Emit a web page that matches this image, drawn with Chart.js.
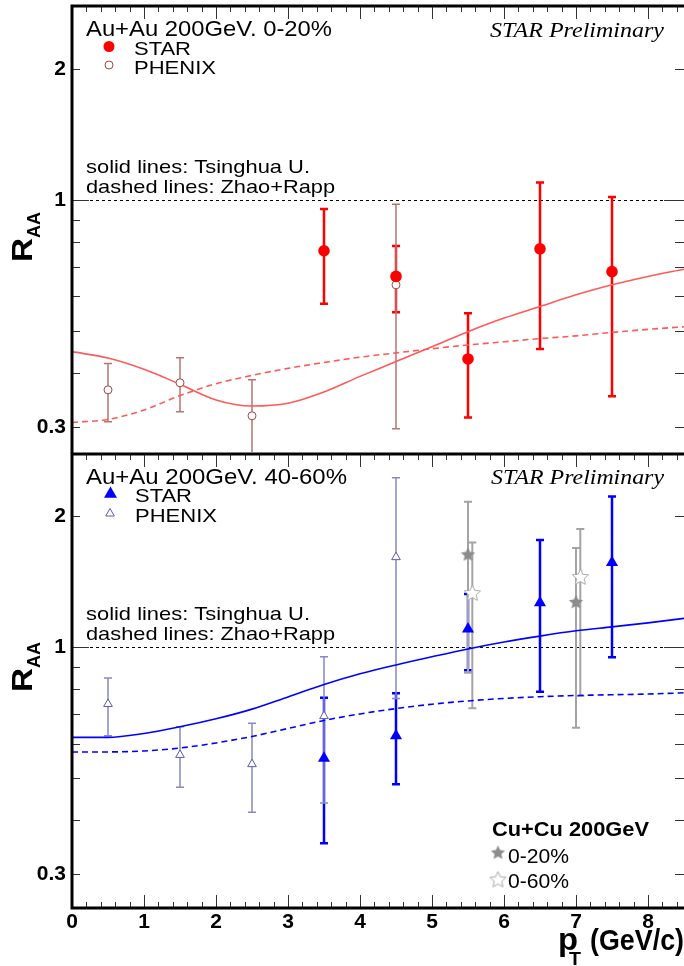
<!DOCTYPE html>
<html lang="en">
<head>
<meta charset="UTF-8">
<title>RAA vs pT</title>
<script src="https://cdn.jsdelivr.net/npm/chart.js@4"></script>
<style>
  body { margin: 0; background: #fff; }
  #wrap { position: relative; width: 684px; height: 966px; overflow: hidden; }
  canvas { position: absolute; left: 0; }
  #topPanel { top: 0; }
  #botPanel { top: 450px; }
</style>
</head>
<body>
<div id="wrap">
  <canvas id="topPanel" width="684" height="460"></canvas>
  <canvas id="botPanel" width="684" height="516"></canvas>
</div>
<script>
// ---- data ----
const ptStar = [3.5, 4.5, 5.5, 6.5, 7.5];
const ptPhxTop = [0.5, 1.5, 2.5, 4.5];
const ptPhxBot = [0.5, 1.5, 2.5, 3.5, 4.5];

// Au+Au 0-20%
const starCen   = [0.764, 0.667, 0.431, 0.772, 0.684];
const starCenHi = [0.953, 0.784, 0.549, 1.096, 1.016];
const starCenLo = [0.577, 0.552, 0.316, 0.454, 0.354];
const phxCen    = [0.366, 0.380, 0.319, 0.638];
const phxCenHi  = [0.421, 0.434, 0.386, 0.977];
const phxCenLo  = [0.309, 0.326, 0.25, 0.298];

// Au+Au 40-60%
const starPer   = [0.555, 0.625, 1.10, 1.265, 1.566];
const starPerHi = [0.765, 0.783, 1.324, 1.762, 2.22];
const starPerLo = [0.354, 0.484, 0.885, 0.789, 0.948];
const phxPer    = [0.74, 0.565, 0.538, 0.694, 1.61];
const phxPerHi  = [0.849, 0.656, 0.668, 0.95, 2.45];
const phxPerLo  = [0.625, 0.476, 0.417, 0.438, 0.762];

// Cu+Cu 200GeV
const ptCu20 = [5.5, 7.0];
const cu20   = [1.63, 1.267];
const cu20Hi = [2.16, 1.69];
const cu20Lo = [0.873, 0.652];
const ptCu60 = [5.56, 7.06];
const cu60   = [1.328, 1.446];
const cu60Hi = [1.74, 1.87];
const cu60Lo = [0.723, 0.772];

// model curves
const ptModel = [0, 0.5, 1, 1.5, 2, 2.5, 3, 3.5, 4, 4.5, 5, 5.5, 6, 6.5, 7, 7.5, 8, 8.5];
const tsingCen = [0.448, 0.433, 0.408, 0.377, 0.347, 0.336, 0.341, 0.362, 0.393, 0.425, 0.46, 0.498, 0.535, 0.569, 0.605, 0.638, 0.667, 0.693];
const rappCen  = [0.308, 0.313, 0.329, 0.355, 0.378, 0.395, 0.41, 0.423, 0.435, 0.445, 0.455, 0.464, 0.472, 0.48, 0.487, 0.496, 0.504, 0.511];
const tsingPer = [0.62, 0.62, 0.633, 0.656, 0.684, 0.72, 0.768, 0.82, 0.868, 0.91, 0.95, 0.99, 1.027, 1.06, 1.09, 1.113, 1.137, 1.164];
const rappPer  = [0.574, 0.574, 0.577, 0.586, 0.602, 0.623, 0.65, 0.678, 0.702, 0.722, 0.739, 0.752, 0.762, 0.769, 0.774, 0.777, 0.78, 0.785];

// axes
const xTickVals = [0, 1, 2, 3, 4, 5, 6, 7, 8];
const yTickVals = [0.3, 0.4, 0.5, 0.6, 0.7, 0.8, 0.9, 1, 2];
const yTickText = { 0.3: '0.3', 1: '1', 2: '2' };

const SANS = 'Liberation Sans';
const zip = (xs, ys) => xs.map((x, i) => ({ x: x, y: ys[i] }));

function makeStar(R, r, fill, stroke) {
  const c = document.createElement('canvas');
  c.width = c.height = Math.ceil(2 * R + 4);
  const g = c.getContext('2d');
  const cx = c.width / 2, cy = c.height / 2;
  g.beginPath();
  for (let k = 0; k < 10; k++) {
    const rad = k % 2 ? r : R;
    const a = -Math.PI / 2 + k * Math.PI / 5;
    g.lineTo(cx + rad * Math.cos(a), cy + rad * Math.sin(a));
  }
  g.closePath();
  g.fillStyle = fill; g.fill();
  if (stroke) { g.strokeStyle = stroke; g.lineWidth = 1; g.stroke(); }
  return c;
}
const starFull = makeStar(7.5, 3.6, '#8c8c8c');
const starOpen = makeStar(8.5, 4, '#ffffff', '#a8a8a8');

function stretchText(ctx, s, x, y, font, w, align) {
  ctx.save();
  ctx.font = font;
  const m = ctx.measureText(s).width;
  const sx = w ? w / m : 1;
  ctx.translate(align === 'right' ? x - m * sx : x, y);
  ctx.scale(sx, 1);
  ctx.fillText(s, 0, 0);
  ctx.restore();
}

function rotText(ctx, s, x, y, font, w) {
  ctx.save();
  ctx.font = font;
  const m = ctx.measureText(s).width;
  ctx.translate(x, y);
  ctx.rotate(-Math.PI / 2);
  ctx.scale(w / m, 1);
  ctx.fillText(s, 0, 0);
  ctx.restore();
}

function decor(cfg) {
  return {
    id: 'decor',
    beforeDatasetsDraw(chart) {
      const { ctx, chartArea: a, scales: { x, y } } = chart;
      ctx.save();
      ctx.beginPath();
      ctx.rect(a.left, a.top, a.right - a.left, a.bottom - a.top);
      ctx.clip();
      // R = 1 reference line
      const p1 = Math.round(y.getPixelForValue(1)) + 0.5;
      ctx.strokeStyle = '#000';
      ctx.lineWidth = 1;
      ctx.setLineDash([3, 3]);
      ctx.beginPath();
      ctx.moveTo(a.left, p1);
      ctx.lineTo(a.right, p1);
      ctx.stroke();
      ctx.setLineDash([]);
      // error bars
      chart.data.datasets.forEach(ds => {
        if (!ds.hi) return;
        ctx.strokeStyle = ds.barColor;
        ctx.lineWidth = ds.barWidth;
        ds.data.forEach((p, i) => {
          const px = x.getPixelForValue(p.x);
          const yh = y.getPixelForValue(ds.hi[i]);
          const yl = y.getPixelForValue(ds.lo[i]);
          ctx.beginPath();
          ctx.moveTo(px, yh); ctx.lineTo(px, yl);
          ctx.moveTo(px - 4, yh); ctx.lineTo(px + 4, yh);
          ctx.moveTo(px - 4, yl); ctx.lineTo(px + 4, yl);
          ctx.stroke();
        });
      });
      ctx.restore();
    },
    afterDraw(chart) {
      const { ctx, chartArea: a, scales: { x, y } } = chart;
      const off = cfg.offset;
      ctx.save();
      // ticks
      ctx.strokeStyle = '#333';
      ctx.lineWidth = 1;
      ctx.beginPath();
      for (let k = 0; k <= 42; k++) {
        const px = Math.round(x.getPixelForValue(k / 5)) + 0.5;
        const len = k % 5 === 0 ? 13 : 6;
        ctx.moveTo(px, a.top); ctx.lineTo(px, a.top + len);
        if (cfg.bottomAxis) { ctx.moveTo(px, a.bottom); ctx.lineTo(px, a.bottom - len); }
      }
      yTickVals.forEach(v => {
        const py = Math.round(y.getPixelForValue(v)) + 0.5;
        const big = v === 1;
        ctx.moveTo(a.left, py); ctx.lineTo(a.left + (big ? 17 : 8), py);
        ctx.moveTo(a.right, py); ctx.lineTo(a.right - (big ? 20 : 9), py);
      });
      ctx.stroke();
      // frame
      ctx.strokeStyle = '#000';
      ctx.lineWidth = 3;
      ctx.beginPath();
      ctx.moveTo(a.left, a.bottom + 1.5); ctx.lineTo(a.left, a.top - 1.5);
      ctx.moveTo(a.left - 1.5, a.top); ctx.lineTo(a.right, a.top);
      if (cfg.bottomAxis) { ctx.moveTo(a.left - 1.5, a.bottom); ctx.lineTo(a.right, a.bottom); }
      ctx.stroke();

      // legend markers
      cfg.marks.forEach(m => {
        ctx.fillStyle = m.fill;
        ctx.strokeStyle = m.stroke;
        ctx.lineWidth = m.bw;
        Chart.helpers.drawPoint(ctx, { pointStyle: m.style, radius: m.r, borderWidth: m.bw, rotation: 0 }, m.x, m.y - off);
      });

      // texts
      ctx.fillStyle = '#000';
      ctx.textBaseline = 'alphabetic';
      cfg.texts.forEach(t => stretchText(ctx, t.s, t.x, t.y - off, t.font, t.w, t.align));
      rotText(ctx, 'R', 32, cfg.rY - off, 'bold 30px ' + SANS, 24);
      rotText(ctx, 'AA', 40, cfg.rY - 24 - off, 'bold 18px ' + SANS, 26);
      if (cfg.bottomAxis) {
        stretchText(ctx, 'p', 558, 950 - off, 'bold 31px ' + SANS, 20);
        stretchText(ctx, 'T', 569, 965 - off, 'bold 18px ' + SANS, 12);
        stretchText(ctx, '(GeV/c)', 590, 950 - off, 'bold 30px ' + SANS, 94);
      }
      ctx.restore();
    }
  };
}

function panelOptions(ymin, ymax, pad, showX) {
  return {
    responsive: false,
    animation: false,
    events: [],
    devicePixelRatio: 1,
    layout: { padding: pad, autoPadding: false },
    plugins: { legend: { display: false }, tooltip: { enabled: false } },
    scales: {
      x: {
        type: 'linear', min: 0, max: 8.5, display: showX,
        afterBuildTicks: s => { s.ticks = xTickVals.map(v => ({ value: v })); },
        afterFit: s => {
          if (showX) s.height = 58;
          s.paddingLeft = 0; s.paddingRight = 0;
        },
        grid: { display: false, drawTicks: false },
        border: { display: false },
        ticks: { color: '#000', padding: 2, maxRotation: 0, autoSkip: false,
                 font: { family: SANS, size: 21, weight: 'bold' } }
      },
      y: {
        type: 'logarithmic', min: ymin, max: ymax,
        afterBuildTicks: s => { s.ticks = yTickVals.map(v => ({ value: v })); },
        afterFit: s => { s.width = 72; s.paddingTop = 0; s.paddingBottom = 0; },
        grid: { display: false, drawTicks: false },
        border: { display: false },
        ticks: { color: '#000', padding: 6, autoSkip: false,
                 callback: v => yTickText[v] || '',
                 font: { family: SANS, size: 21, weight: 'bold' } }
      }
    }
  };
}

function pointSet(xs, ys, hi, lo, st) {
  return Object.assign({ data: zip(xs, ys), hi: hi, lo: lo, showLine: false, pointBorderWidth: 0 }, st);
}
function curve(ys, color, dash) {
  return { data: zip(ptModel, ys), showLine: true, pointRadius: 0, borderColor: color,
           borderWidth: 1.6, borderDash: dash, cubicInterpolationMode: 'monotone', fill: false };
}

// ---- top panel: 0-20% ----
const lbl = '19px ' + SANS;
new Chart(document.getElementById('topPanel'), {
  type: 'scatter',
  data: {
    datasets: [
      pointSet(ptStar, starCen, starCenHi, starCenLo, {
        pointStyle: 'circle', pointRadius: 5.8, pointBackgroundColor: '#ff0000',
        pointBorderColor: '#ff0000', barColor: '#ff0000', barWidth: 2.5 }),
      pointSet(ptPhxTop, phxCen, phxCenHi, phxCenLo, {
        pointStyle: 'circle', pointRadius: 4, pointBackgroundColor: '#ffffff',
        pointBorderColor: '#a04646', pointBorderWidth: 1, barColor: '#b87474', barWidth: 1.5 }),
      curve(tsingCen, '#ff5a5a', []),
      curve(rappCen, '#ff5a5a', [6, 4])
    ]
  },
  options: panelOptions(0.2634, 2.79, { top: 6, bottom: 8, left: 0, right: 0 }, false),
  plugins: [decor({
    offset: 0, bottomAxis: false, rY: 262,
    marks: [
      { style: 'circle', r: 5.5, x: 109, y: 46.5, fill: '#ff0000', stroke: '#ff0000', bw: 0 },
      { style: 'circle', r: 4, x: 109, y: 65, fill: '#ffffff', stroke: '#a04646', bw: 1 }
    ],
    texts: [
      { s: 'Au+Au 200GeV. 0-20%', x: 86, y: 36, font: '22px ' + SANS, w: 246 },
      { s: 'STAR', x: 134, y: 55, font: lbl, w: 57 },
      { s: 'PHENIX', x: 134, y: 74, font: lbl, w: 82 },
      { s: 'solid lines: Tsinghua U.', x: 86, y: 173, font: lbl, w: 224 },
      { s: 'dashed lines: Zhao+Rapp', x: 86, y: 193, font: lbl, w: 249 },
      { s: 'STAR Preliminary', x: 664, y: 36.5, font: 'italic 22px Liberation Serif', w: 174, align: 'right' }
    ]
  })]
});

// ---- bottom panel: 40-60% ----
new Chart(document.getElementById('botPanel'), {
  type: 'scatter',
  data: {
    datasets: [
      pointSet(ptStar, starPer, starPerHi, starPerLo, {
        pointStyle: 'triangle', pointRadius: 7, pointBackgroundColor: '#0000ff',
        pointBorderColor: '#0000ff', barColor: '#0000ff', barWidth: 2.5 }),
      pointSet(ptPhxBot, phxPer, phxPerHi, phxPerLo, {
        pointStyle: 'triangle', pointRadius: 5, pointBackgroundColor: '#ffffff',
        pointBorderColor: '#5a5ab4', pointBorderWidth: 1, barColor: '#8888c8', barWidth: 1.5 }),
      pointSet(ptCu20, cu20, cu20Hi, cu20Lo, {
        pointStyle: starFull, barColor: '#a4a4a4', barWidth: 2 }),
      pointSet(ptCu60, cu60, cu60Hi, cu60Lo, {
        pointStyle: starOpen, barColor: '#a4a4a4', barWidth: 2 }),
      curve(tsingPer, '#0000ff', []),
      curve(rappPer, '#0000ff', [6, 4])
    ]
  },
  options: panelOptions(0.2512, 2.78, { top: 4, bottom: 0, left: 0, right: 0 }, true),
  plugins: [decor({
    offset: 450, bottomAxis: true, rY: 692,
    marks: [
      { style: 'triangle', r: 7.5, x: 110.5, y: 494, fill: '#0000ff', stroke: '#0000ff', bw: 0 },
      { style: 'triangle', r: 5, x: 110, y: 513.5, fill: '#ffffff', stroke: '#5a5ab4', bw: 1 },
      { style: starFull, r: 7, x: 498, y: 853, fill: '#8c8c8c', stroke: '#8c8c8c', bw: 0 },
      { style: starOpen, r: 8, x: 498, y: 880, fill: '#ffffff', stroke: '#a8a8a8', bw: 0 }
    ],
    texts: [
      { s: 'Au+Au 200GeV. 40-60%', x: 86, y: 483.5, font: '22px ' + SANS, w: 261 },
      { s: 'STAR', x: 135, y: 502, font: lbl, w: 57 },
      { s: 'PHENIX', x: 135, y: 521.5, font: lbl, w: 82 },
      { s: 'solid lines: Tsinghua U.', x: 86, y: 620, font: lbl, w: 224 },
      { s: 'dashed lines: Zhao+Rapp', x: 86, y: 640, font: lbl, w: 249 },
      { s: 'STAR Preliminary', x: 664, y: 484, font: 'italic 22px Liberation Serif', w: 173, align: 'right' },
      { s: 'Cu+Cu 200GeV', x: 492, y: 836, font: 'bold 20px ' + SANS, w: 157 },
      { s: '0-20%', x: 508, y: 863, font: '20px ' + SANS, w: 61 },
      { s: '0-60%', x: 508, y: 888, font: '20px ' + SANS, w: 61 }
    ]
  })]
});
</script>
</body>
</html>
